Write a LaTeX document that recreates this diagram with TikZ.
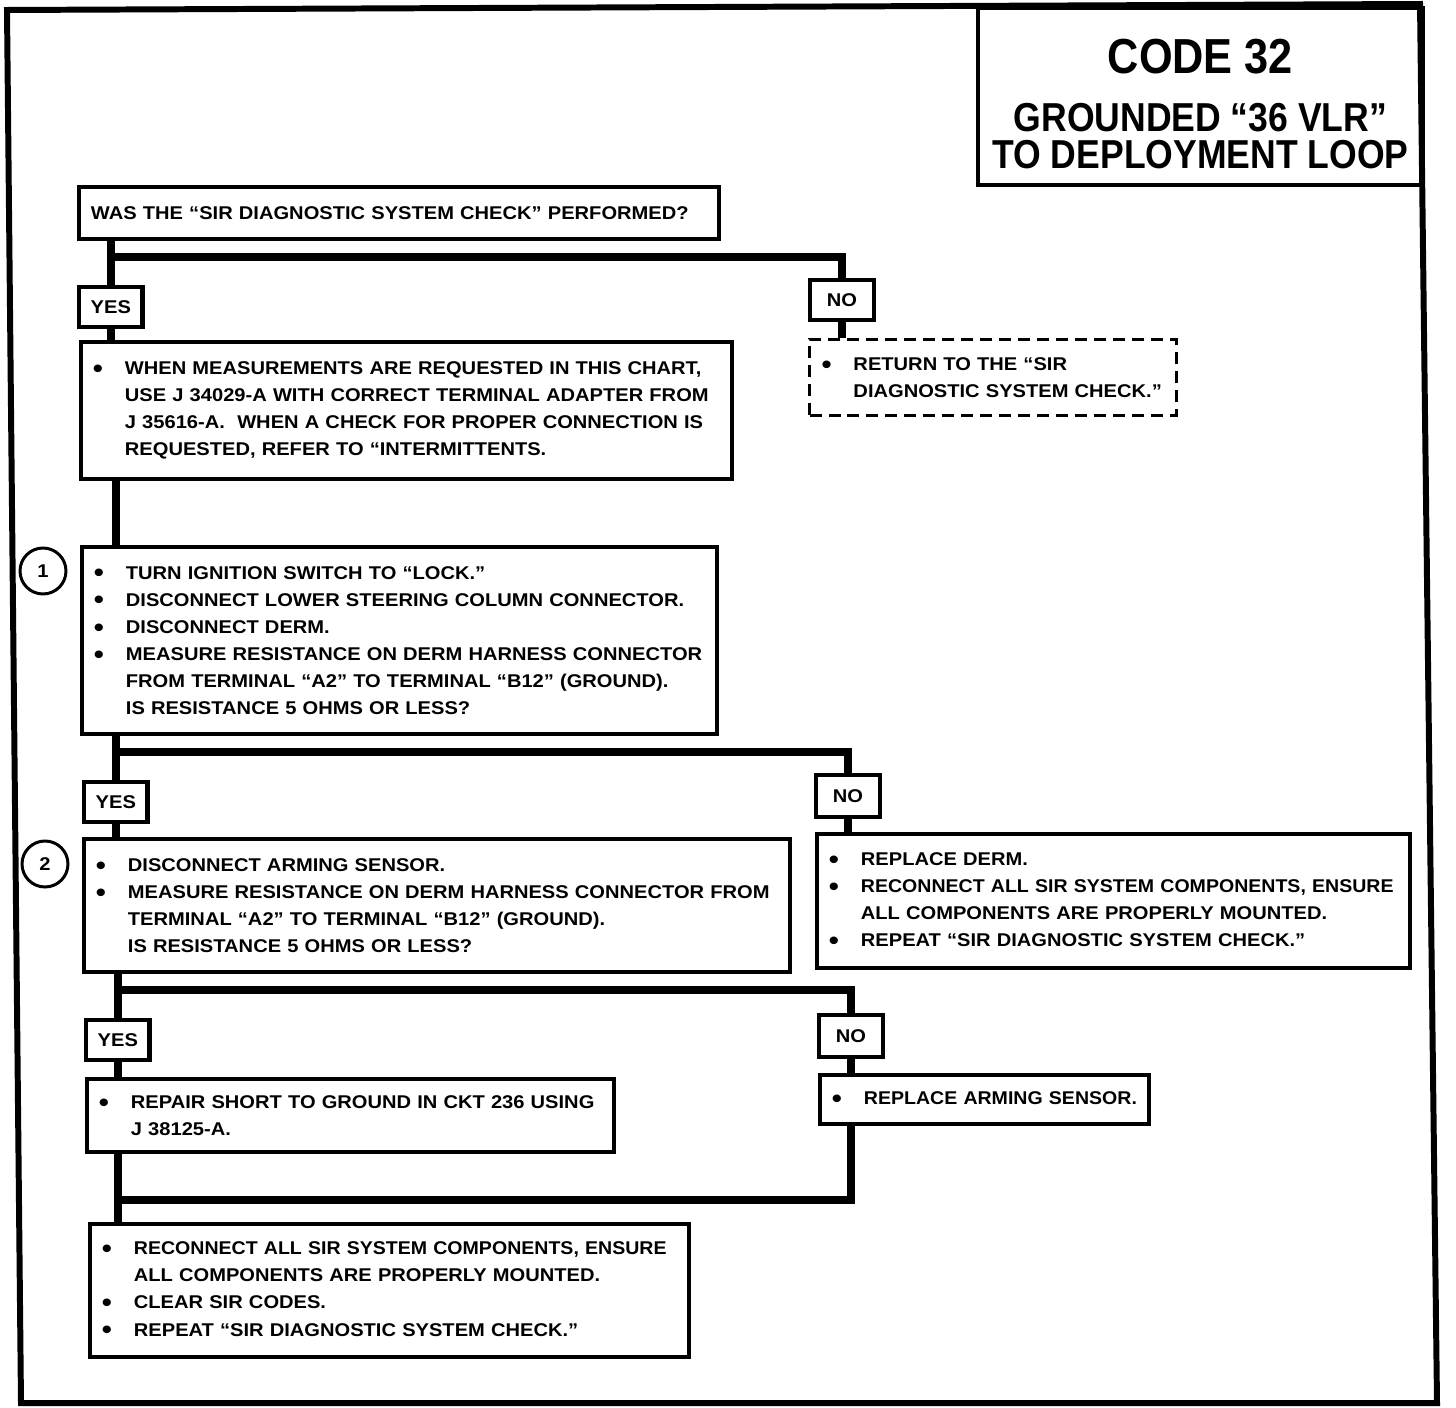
\documentclass[tikz,border=0pt]{standalone}
\usepackage{fontspec}
\newfontfamily\chartfont{Liberation Sans}[FakeStretch=1.09]
\newfontfamily\tightfont{Liberation Sans}[FakeStretch=1.06]
\newfontfamily\titlefont{Liberation Sans}[FakeStretch=0.88]
\newcommand{\chart}{\chartfont\bfseries\fontsize{10.5}{15.4}\selectfont}
\newcommand{\bigdot}{\raisebox{-1.6pt}{\fontsize{15}{15}\selectfont\textbullet}}
\newcommand{\itm}[1]{\mbox{\makebox[0.64cm][l]{\bigdot}#1}}
\newcommand{\cont}[1]{\mbox{\hspace*{0.64cm}#1}}

\begin{document}
\begin{tikzpicture}[x=0.02cm, y=-0.02cm,
  box/.style 2 args={draw, line width=2.2pt, anchor=north west, align=left,
    inner xsep=0.24cm, inner ysep=0pt, text width=#1, minimum height=#2, font=\chart},
  dashbox/.style 2 args={box={#1}{#2}, line width=1.7pt, dash pattern=on 0.24cm off 0.14cm},
  tag/.style={draw, line width=2.4pt, anchor=north west, minimum width=1.27cm,
    minimum height=0.8cm, inner sep=0pt, font=\chart},
  stepnum/.style={draw, circle, line width=1.7pt, minimum size=0.92cm, inner sep=0pt, font=\chart},
  titlebox/.style={draw, line width=2.2pt, anchor=north west, align=center,
    minimum width=8.9cm, minimum height=3.54cm, inner sep=0pt,
    font=\titlefont\bfseries\fontsize{23}{21.5}\selectfont},
  flow/.style={line width=4.5pt}]
  \useasboundingbox (0,0) rectangle (1456,1408);

  % Outer frame and title
  \draw[line width=3.4pt] (7,10) -- (1420,4) -- (1437,1403) -- (21,1403) -- cycle;
  \node[titlebox] (title) at (976,6) {{\fontsize{28}{30}\selectfont\rule{0pt}{1.0cm}CODE 32}\\[0.4cm]
    GROUNDED “36 VLR”\\ TO DEPLOYMENT LOOP};

  % Boxes
  \node[box={12.32cm}{1.04cm}] (check) at (77,185) {\mbox{WAS THE “SIR DIAGNOSTIC SYSTEM CHECK” PERFORMED?}};
  \node[tag] (yes1) at (77,285) {YES};
  \node[tag] (no1) at (808,278) {NO};
  \node[dashbox={6.86cm}{1.52cm}] (ret) at (808,338) {\itm{RETURN TO THE “SIR}\\
    \cont{DIAGNOSTIC SYSTEM CHECK.”}};
  \node[box={12.54cm}{2.74cm}] (info) at (79,340) {\itm{WHEN MEASUREMENTS ARE REQUESTED IN THIS CHART,}\\
    \cont{USE J 34029-A WITH CORRECT TERMINAL ADAPTER FROM}\\
    \cont{J 35616-A.\ \ WHEN A CHECK FOR PROPER CONNECTION IS}\\
    \cont{REQUESTED, REFER TO “INTERMITTENTS.}};
  \node[box={12.22cm}{3.74cm}] (step1) at (80,545) {\itm{TURN IGNITION SWITCH TO “LOCK.”}\\
    \itm{DISCONNECT LOWER STEERING COLUMN CONNECTOR.}\\
    \itm{DISCONNECT DERM.}\\
    \itm{MEASURE RESISTANCE ON DERM HARNESS CONNECTOR}\\
    \cont{FROM TERMINAL “A2” TO TERMINAL “B12” (GROUND).}\\
    \cont{IS RESISTANCE 5 OHMS OR LESS?}};
  \node[stepnum] (num1) at (43,571) {1};
  \node[tag] (yes2) at (82,780) {YES};
  \node[tag, minimum height=0.84cm] (no2) at (814,773) {NO};
  \node[box={13.64cm}{2.66cm}] (step2) at (82,837) {\itm{DISCONNECT ARMING SENSOR.}\\
    \itm{MEASURE RESISTANCE ON DERM HARNESS CONNECTOR FROM}\\
    \cont{TERMINAL “A2” TO TERMINAL “B12” (GROUND).}\\
    \cont{IS RESISTANCE 5 OHMS OR LESS?}};
  \node[stepnum] (num2) at (45,864) {2};
  \node[box={11.38cm}{2.68cm}] (derm) at (815,832) {\itm{REPLACE DERM.}\\
    \itm{{\tightfont RECONNECT ALL SIR SYSTEM COMPONENTS, ENSURE}}\\
    \cont{ALL COMPONENTS ARE PROPERLY MOUNTED.}\\
    \itm{REPEAT “SIR DIAGNOSTIC SYSTEM CHECK.”}};
  \node[tag] (yes3) at (84,1018) {YES};
  \node[tag, minimum height=0.84cm] (no3) at (817,1013) {NO};
  \node[box={10.06cm}{1.46cm}] (repair) at (85,1077) {\itm{REPAIR SHORT TO GROUND IN CKT 236 USING}\\
    \cont{J 38125-A.}};
  \node[box={6.1cm}{0.98cm}] (arming) at (818,1073) {\itm{{\tightfont REPLACE ARMING SENSOR.}}};
  \node[box={11.5cm}{2.66cm}] (final) at (88,1222) {\itm{{\tightfont RECONNECT ALL SIR SYSTEM COMPONENTS, ENSURE}}\\
    \cont{ALL COMPONENTS ARE PROPERLY MOUNTED.}\\
    \itm{CLEAR SIR CODES.}\\
    \itm{REPEAT “SIR DIAGNOSTIC SYSTEM CHECK.”}};

  % First question
  \coordinate (j1) at (0,257);
  \draw[flow] (yes1.north |- check.south) -- (yes1.north);
  \draw[flow] (yes1 |- j1) -| (no1.north);
  \draw[flow] (yes1.south) -- (yes1.south |- info.north);
  \draw[flow] (no1.south) -- (no1.south |- ret.north);
  \draw[flow] (yes2 |- info.south) -- (yes2 |- step1.north);

  % Step 1
  \coordinate (j2) at (0,752);
  \draw[flow] (yes2 |- step1.south) -- (yes2.north);
  \draw[flow] (yes2 |- j2) -| (no2.north);
  \draw[flow] (yes2.south) -- (yes2.south |- step2.north);
  \draw[flow] (no2.south) -- (no2.south |- derm.north);

  % Step 2
  \coordinate (j3) at (0,990);
  \draw[flow] (yes3 |- step2.south) -- (yes3.north);
  \draw[flow] (yes3 |- j3) -| (no3.north);
  \draw[flow] (yes3.south) -- (yes3.south |- repair.north);
  \draw[flow] (no3.south) -- (no3.south |- arming.north);

  % Merge to final box
  \coordinate (j4) at (0,1200);
  \draw[flow] (yes3 |- repair.south) -- (yes3 |- final.north);
  \draw[flow] (no3 |- arming.south) |- (yes3 |- j4);
\end{tikzpicture}
\end{document}
